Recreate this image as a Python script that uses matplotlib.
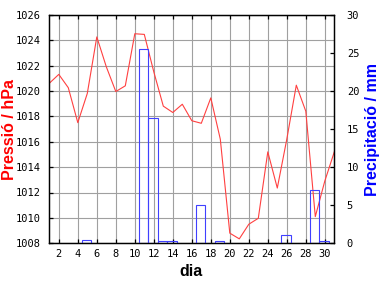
import matplotlib
matplotlib.use("Agg")
import matplotlib.pyplot as plt

# daily values
days = list(range(1, 32))
pressure = [1020.6, 1021.3, 1020.25, 1017.5, 1019.8, 1024.25, 1021.9, 1019.95,
            1020.4, 1024.5, 1024.45, 1021.5, 1018.8, 1018.3, 1018.95, 1017.65,
            1017.45, 1019.45, 1016.2, 1008.8, 1008.35, 1009.5, 1009.97, 1015.2,
            1012.35, 1016.2, 1020.45, 1018.4, 1010.1, 1012.9, 1015.2]
rain_days = [5, 11, 12, 13, 14, 17, 19, 26, 29, 30]
rain = [0.4, 25.45, 16.45, 0.3, 0.3, 5.0, 0.3, 1.05, 6.95, 0.3]

day_ticks = list(range(2, 31, 2))
p_ticks = list(range(1008, 1027, 2))
r_ticks = list(range(0, 31, 5))

red = "#ff4040"
blue = "#4040ff"
tickfont = {"family": "DejaVu Sans Mono", "size": 7.5}

fig = plt.figure(figsize=(3.84, 2.88), dpi=100)
ax = fig.add_axes([49.3 / 384, 1 - 243.3 / 288, 285 / 384, 228.6 / 288])
ax2 = ax.twinx()

ax.plot(days, pressure, color=red, lw=0.8)
ax.set_xlim(1, 31)
ax.set_ylim(1008, 1026)
ax.set_xticks(day_ticks)
ax.set_yticks(p_ticks)
ax.grid(True, color="#a0a0a0", lw=0.8)
ax.set_axisbelow(True)

ax2.bar([d - 0.06 for d in rain_days], rain, width=1.0, fill=False,
        edgecolor=blue, lw=0.8)
ax2.set_ylim(0, 30)
ax2.set_yticks(r_ticks)

for a in (ax, ax2):
    for s in a.spines.values():
        s.set_linewidth(0.9)
    a.tick_params(direction="in", length=3, width=0.9, top=True)

ax.tick_params(axis="y", pad=6)
ax.tick_params(axis="x", pad=4)
ax2.tick_params(axis="y", pad=9)
ax.set_xticklabels([str(d) for d in day_ticks], fontdict=tickfont)
ax.set_yticklabels([str(p) for p in p_ticks], fontdict=tickfont)
ax2.set_yticklabels([str(r) for r in r_ticks], fontdict=tickfont)

lab = {"family": "Liberation Sans", "weight": "bold", "size": 11.5}
fig.text(10 / 384, 1 - 129 / 288, "Pressió / hPa", color="red", rotation=90,
         ha="center", va="center", fontdict=lab)
fig.text(373 / 384, 1 - 129 / 288, "Precipitació / mm", color="#0000ff",
         rotation=90, ha="center", va="center", fontdict=lab)
fig.text(191.5 / 384, 1 - 272 / 288, "dia", color="black",
         ha="center", va="center", fontdict=lab)

fig.savefig("out.png", dpi=100)
